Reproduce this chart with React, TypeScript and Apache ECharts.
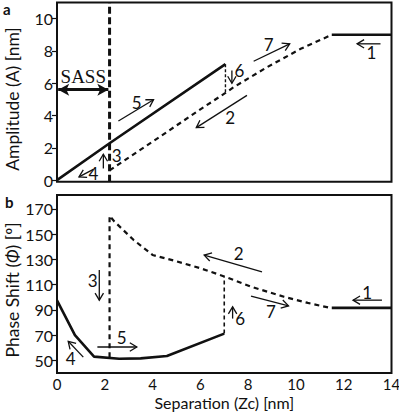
import React, { useEffect, useRef } from "react";
import * as echarts from "echarts";

// ---- data ----
const xTicks = [0, 2, 4, 6, 8, 10, 12, 14];
const ampTicks = [0, 2, 4, 6, 8, 10];
const phaseTicks = [50, 70, 90, 110, 130, 150, 170];

// panel a: amplitude
const ampApproach = [[0, 0], [2.2, 2.28], [7.05, 7.18]]; // solid (5)
const ampRetractCurve = [[2.2, 0.6], [4.0, 2.38], [6.0, 4.38], [7.05, 5.4], [7.4, 5.76], [8.8, 7.0], [10.2, 8.13], [11.5, 9.0]];
const ampJump = [[7.05, 7.18], [7.05, 5.4]];
const ampFree = [[11.5, 9.0], [14, 9.0]];
const sassBoundary = [[2.2, -0.1], [2.2, 11]];
const sassSpan = [0.05, 2.15];
const sassLevel = 5.6;

// panel b: phase
const phaseApproach = [[0, 97.5], [0.75, 70], [1.55, 53], [2.6, 51.3], [3.5, 51.6], [4.6, 53.5], [7.0, 71.2]];
const phaseRetract = [[2.2, 52.5], [2.2, 164.5], [2.4, 160], [3.2, 145.5], [4.0, 133.5], [4.9, 129], [6.0, 123], [7.0, 116.5], [8.1, 108.5], [9.5, 100.4], [10.5, 95.5], [11.5, 91.3]];
const phaseJump = [[7.0, 71.2], [7.0, 116.5]];
const phaseFree = [[11.5, 91.6], [14, 91.6]];

// annotation arrows: [x1, y1, x2, y2, labelX, labelY]
const ampArrowLabels = ["1", "7", "6", "5", "2", "3", "4"];
const ampArrows = [
  [13.54, 8.44, 12.56, 8.44, 13.16, 7.9],
  [8.23, 7.36, 9.74, 8.44, 8.86, 8.4],
  [7.32, 6.79, 7.32, 6.0, 7.64, 6.79],
  [2.57, 3.66, 4.04, 4.98, 3.34, 4.8],
  [7.95, 5.25, 5.83, 3.25, 7.25, 3.9],
  [1.94, 0.72, 1.94, 1.6, 2.5, 1.55],
  [1.52, 0.66, 0.92, 0.2, 1.52, 0.41],
];
const phaseArrowLabels = ["1", "2", "3", "4", "5", "6", "7"];
const phaseArrows = [
  [13.6, 97.7, 12.39, 97.7, 12.98, 103.5],
  [8.58, 120.2, 6.16, 133.4, 7.6, 135],
  [1.77, 121.5, 1.77, 97.7, 1.49, 113.6],
  [1.1, 52.6, 0.47, 65.1, 0.57, 51.3],
  [1.69, 60.6, 3.34, 60.6, 2.71, 68.5],
  [7.35, 83.1, 7.35, 92.4, 7.67, 83.1],
  [8.12, 100.9, 9.69, 93.2, 8.95, 88.4],
];

const FONT = "Lato";

function arrowRenderer(labels: string[]) {
  return (params: any, api: any) => {
    const p1 = api.coord([api.value(0), api.value(1)]);
    const p2 = api.coord([api.value(2), api.value(3)]);
    const lp = api.coord([api.value(4), api.value(5)]);
    const dx = p2[0] - p1[0];
    const dy = p2[1] - p1[1];
    const len = Math.hypot(dx, dy) || 1;
    const ux = dx / len;
    const uy = dy / len;
    const h = 7;
    const w = 4.2;
    const b = [p2[0] - ux * h, p2[1] - uy * h];
    const a1 = [b[0] - uy * w, b[1] + ux * w];
    const a2 = [b[0] + uy * w, b[1] - ux * w];
    return {
      type: "group",
      children: [
        { type: "line", shape: { x1: p1[0], y1: p1[1], x2: p2[0], y2: p2[1] }, style: { stroke: "#111", lineWidth: 1.3 } },
        { type: "polyline", shape: { points: [a1, p2, a2] }, style: { stroke: "#111", fill: "none", lineWidth: 1.3 } },
        {
          type: "text",
          x: lp[0],
          y: lp[1],
          style: { text: labels[params.dataIndex], font: `17px "${FONT}"`, fill: "#111", align: "center", verticalAlign: "middle" },
        },
      ],
    };
  };
}

export default function App() {
  const ref = useRef<HTMLDivElement>(null);
  useEffect(() => {
    if (!ref.current) return;
    const chart = echarts.init(ref.current, null, { renderer: "svg" });
    const axisLabelStyle = { color: "#111", fontSize: 16, fontFamily: FONT };
    const line = (data: number[][], xi: number, width: number, type: any = "solid", z = 3) => ({
      type: "line",
      xAxisIndex: xi,
      yAxisIndex: xi,
      data,
      symbol: "none",
      z,
      lineStyle: { color: "#111", width, type, cap: "butt" },
    });
    chart.setOption({
      animation: false,
      grid: [
        { left: 57, right: 7.5, top: 2.5, height: 179.2, show: true, borderColor: "#111", borderWidth: 2, backgroundColor: "transparent", containLabel: false, outerBoundsMode: "none" },
        { left: 57, right: 7.5, top: 195, height: 178, show: true, borderColor: "#111", borderWidth: 2, backgroundColor: "transparent", containLabel: false, outerBoundsMode: "none" },
      ],
      xAxis: [
        {
          type: "value", gridIndex: 0, min: 0, max: 14, interval: 2,
          axisLine: { show: false }, axisTick: { show: false }, axisLabel: { show: false }, splitLine: { show: false },
        },
        {
          type: "value", gridIndex: 1, min: 0, max: 14, interval: 2,
          axisLine: { show: false }, axisTick: { show: false }, splitLine: { show: false },
          axisLabel: { ...axisLabelStyle, fontSize: 15, lineHeight: 14, margin: 4, customValues: xTicks },
          name: "Separation (Zc) [nm]", nameLocation: "middle", nameGap: 21, nameMoveOverlap: false,
          nameTextStyle: { color: "#111", fontSize: 16, fontFamily: FONT, lineHeight: 16 },
        },
      ],
      yAxis: [
        {
          type: "value", gridIndex: 0, min: -0.1, max: 11,
          axisLine: { show: false }, splitLine: { show: false },
          axisTick: { show: true, inside: false, length: 5, lineStyle: { color: "#111", width: 1.2 }, customValues: ampTicks },
          axisLabel: { ...axisLabelStyle, margin: 4, customValues: ampTicks },
          name: "Amplitude (A) [nm]", nameLocation: "middle", nameGap: 36, nameMoveOverlap: false,
          nameTextStyle: { color: "#111", fontSize: 17.5, fontFamily: FONT, padding: [0, 14, 0, 0] },
        },
        {
          type: "value", gridIndex: 1, min: 40, max: 181,
          axisLine: { show: false }, splitLine: { show: false },
          axisTick: { show: true, inside: false, length: 5, lineStyle: { color: "#111", width: 1.2 }, customValues: phaseTicks },
          axisLabel: { ...axisLabelStyle, margin: 4, customValues: phaseTicks },
          name: "Phase Shift ({i|Φ}) [º]", nameLocation: "middle", nameGap: 36, nameMoveOverlap: false,
          nameTextStyle: {
            color: "#111", fontSize: 17.5, fontFamily: FONT, padding: [0, 12, 0, 0],
            rich: { i: { fontStyle: "italic", fontSize: 17.5, fontFamily: FONT, color: "#111" } },
          },
        },
      ],
      graphic: [
        { type: "text", left: 3, top: 1, style: { text: "a", font: `bold 15px "${FONT}"`, fill: "#111" } },
        { type: "text", left: 5, top: 194, style: { text: "b", font: `bold 15px "${FONT}"`, fill: "#111" } },
      ],
      series: [
        line(ampApproach, 0, 2.6),
        line(ampRetractCurve, 0, 2.2, [5, 4]),
        line(ampJump, 0, 1.4, [3, 2]),
        line(ampFree, 0, 2.6),
        {
          ...line(sassBoundary, 0, 3, [7, 3.5], 4),
          markLine: {
            silent: true,
            symbol: ["arrow", "arrow"],
            symbolSize: [9, 11],
            lineStyle: { color: "#111", width: 3, type: "solid" },
            label: {
              show: true, position: "insideMiddleTop", distance: 4, formatter: "SASS",
              fontFamily: "Liberation Serif", fontSize: 19, color: "#111",
            },
            data: [[{ coord: [sassSpan[0], sassLevel] }, { coord: [sassSpan[1], sassLevel] }]],
          },
        },
        line(phaseApproach, 1, 2.6),
        line(phaseRetract, 1, 2.2, [5, 4]),
        line(phaseJump, 1, 1.6, [4, 3]),
        line(phaseFree, 1, 2.6),
        {
          type: "custom", xAxisIndex: 0, yAxisIndex: 0, data: ampArrows, z: 5,
          renderItem: arrowRenderer(ampArrowLabels),
        },
        {
          type: "custom", xAxisIndex: 1, yAxisIndex: 1, data: phaseArrows, z: 5,
          renderItem: arrowRenderer(phaseArrowLabels),
        },
      ],
    });
    return () => chart.dispose();
  }, []);
  return <div ref={ref} style={{ width: 399, height: 415, position: "absolute", left: 0, top: 0 }} />;
}
